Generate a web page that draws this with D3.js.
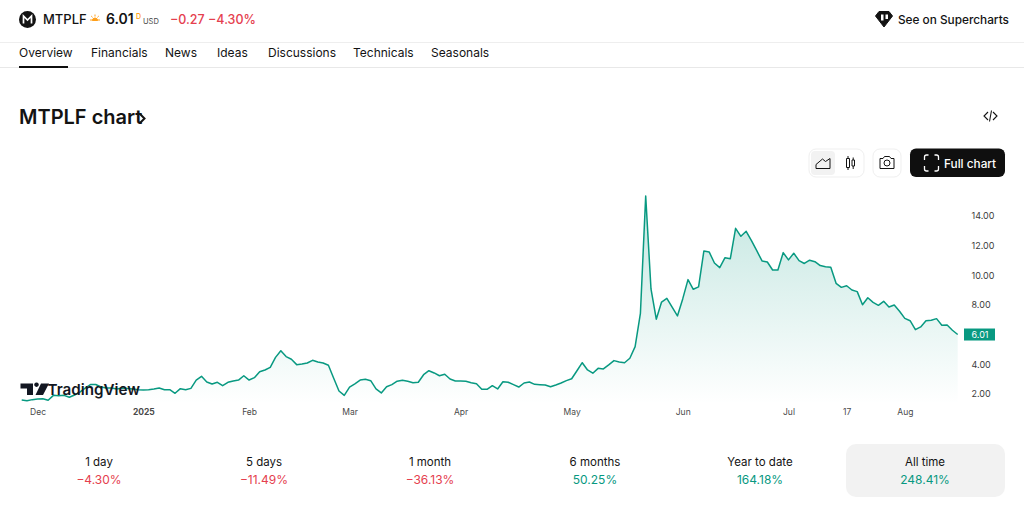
<!DOCTYPE html>
<html>
<head>
<meta charset="utf-8">
<script src="https://cdn.jsdelivr.net/npm/d3@7"></script>
<style>
    html, body { margin: 0; padding: 0; background: #fff; overflow: hidden; }
    text { font-family: Inter, "Noto Sans", sans-serif; }
</style>
</head>
<body>
<div id="chart"></div>
<script>
// daily closes
var prices = [
    1.60, 1.55, 1.62, 1.66, 1.68, 1.58, 1.91, 1.89, 1.91, 1.78, 1.93,
    2.13, 2.40, 2.64, 2.64, 2.47, 2.40, 2.40, 2.34, 2.40, 2.37, 2.34,
    2.29, 2.27, 2.29, 2.34, 2.40, 2.29, 2.29, 2.05, 2.36, 2.29, 2.38, 2.94, 3.19, 2.81,
    2.67, 2.79, 2.56, 2.79, 2.88, 2.94, 3.23, 2.94, 3.10, 3.50, 3.62, 3.80, 4.47, 4.92,
    4.52, 4.34, 3.98, 4.02, 4.09, 4.27, 4.16, 4.09, 3.94, 3.06, 2.20, 1.91,
    2.47, 2.69, 2.94, 2.99, 2.90, 2.34, 2.07, 2.49, 2.63, 2.86, 2.92, 2.86, 2.76, 2.79,
    3.30, 3.57, 3.42, 3.23, 3.33, 3.01, 2.88, 2.88, 2.86, 2.76, 2.69, 2.32, 2.32, 2.56,
    2.34, 2.83, 2.79, 2.63, 2.47, 2.74, 2.81, 2.65, 2.63, 2.61, 2.49, 2.61, 2.74, 2.90,
    3.03, 3.57, 4.11, 3.62, 3.40, 3.73, 3.69, 3.96, 4.25, 4.16, 4.11, 4.41, 5.19, 7.44,
    15.35, 9.08, 7.04, 8.20, 8.45, 7.85, 7.26, 8.41, 9.71, 9.06, 9.22, 11.64, 11.58, 10.83,
    10.52, 11.19, 11.12, 13.17, 12.63, 12.97, 12.34, 11.66, 10.97, 10.90, 10.36, 10.36,
    11.53, 11.04, 11.49, 10.99, 10.80, 11.02, 10.92, 10.66, 10.58, 10.54, 9.46, 9.19,
    9.30, 9.01, 8.90, 8.02, 8.49, 8.18, 7.98, 8.25, 7.87, 8.00, 7.58, 7.10, 6.94, 6.34,
    6.52, 6.94, 6.97, 7.08, 6.63, 6.65, 6.30, 6.01
];
var xTickIndex = [3, 23, 43, 62, 83, 104, 125, 145, 156, 167];
var xTickLabels = ['Dec', '2025', 'Feb', 'Mar', 'Apr', 'May', 'Jun', 'Jul', '17', 'Aug'];
var yTicks = [2, 4, 6, 8, 10, 12, 14];
var lastPrice = 6.01;

var tabs = ['Overview', 'Financials', 'News', 'Ideas', 'Discussions', 'Technicals', 'Seasonals'];
var tabX = [19, 91, 165, 217, 268, 353, 431];
var periods = ['1 day', '5 days', '1 month', '6 months', 'Year to date', 'All time'];
var periodReturns = ['\u22124.30%', '\u221211.49%', '\u221236.13%', '50.25%', '164.18%', '248.41%'];
var periodX = [99, 264, 430, 595, 760, 925];

var green = '#089981', red = '#e5404e', ink = '#131313';

var svg = d3.select('#chart').append('svg')
    .attr('width', 1024)
    .attr('height', 509)
    .style('display', 'block');

var x = d3.scaleLinear().domain([0, prices.length - 1]).range([21.7, 957.7]);
var y = d3.scaleLinear().domain([2, 14]).range([394, 216]);
var chartBottom = 404;

// header
var head = svg.append('g');
head.append('circle').attr('cx', 27.5).attr('cy', 19.5).attr('r', 8.5).attr('fill', ink);
head.append('path')
    .attr('d', 'M23.5 23.5v-7.5l4 4 4-4v7.5')
    .attr('fill', 'none').attr('stroke', '#fff').attr('stroke-width', 1.7);

function label(parent, tx, ty, str, size, weight, fill, anchor) {
    return parent.append('text')
        .attr('x', tx).attr('y', ty)
        .attr('font-size', size).attr('font-weight', weight)
        .attr('fill', fill).attr('text-anchor', anchor || 'start')
        .text(str);
}

label(head, 43, 24, 'MTPLF', 13, 500, ink);
// pre-market sun
var sun = head.append('g').attr('stroke', '#ff9f1a').attr('stroke-width', 1).attr('fill', 'none');
sun.append('path').attr('d', 'M90 20h3M97 20h3M95 14.5v2M91.2 16l1.4 1.4M98.8 16l-1.4 1.4');
sun.append('path').attr('d', 'M92.5 20.5a2.5 2.5 0 0 1 5 0z').attr('fill', '#ff9f1a');
label(head, 106, 24, '6.01', 14, 600, ink);
label(head, 136, 19, 'D', 7, 500, '#ff9800');
label(head, 143, 24, 'USD', 7.5, 400, '#444');
label(head, 170, 24, '\u22120.27', 12.5, 500, red);
label(head, 208, 24, '\u22124.30%', 12.5, 500, red);

// supercharts link
head.append('path').attr('d', 'M879 11.5h10l3.5 4.5-8.5 11-8.5-11z').attr('fill', ink).attr('stroke', ink).attr('stroke-linejoin', 'round');
head.append('path').attr('d', 'M881 14.5h2.5v6h-2.5zM885.5 14.5h2.5v4.5h-2.5z').attr('fill', '#fff');
label(head, 898, 24, 'See on Supercharts', 11.8, 500, ink);

head.append('rect').attr('x', 0).attr('y', 42).attr('width', 1024).attr('height', 1).attr('fill', '#eeeeee');
head.append('rect').attr('x', 0).attr('y', 67).attr('width', 1024).attr('height', 1).attr('fill', '#e8e8e8');
head.append('rect').attr('x', 19).attr('y', 66).attr('width', 49).attr('height', 2).attr('fill', '#0f0f0f');

tabs.forEach(function (t, i) {
    label(head, tabX[i], 56.5, t, 12, 400, ink);
});

// title row
label(svg, 19, 124, 'MTPLF chart', 20, 600, ink);
svg.append('path').attr('d', 'M140 114l4.5 4.5-4.5 4.5')
    .attr('fill', 'none').attr('stroke', ink).attr('stroke-width', 2);
svg.append('path').attr('d', 'M988 112l-4 4 4 4M993 112l4 4-4 4M991.5 110.5l-2 11')
    .attr('fill', 'none').attr('stroke', ink).attr('stroke-width', 1.1);

// toolbar
var bar = svg.append('g');
bar.append('rect').attr('x', 809).attr('y', 149).attr('width', 55).attr('height', 28).attr('rx', 7)
    .attr('fill', '#fff').attr('stroke', '#efefef');
bar.append('rect').attr('x', 811).attr('y', 151).attr('width', 24).attr('height', 24).attr('rx', 4).attr('fill', '#f2f2f2');
bar.append('path').attr('d', 'M816 168.5h14v-10l-4.5 3-3-2.5-6.5 5.5z')
    .attr('fill', 'none').attr('stroke', ink);
bar.append('path').attr('d', 'M846.5 158.5h3v9h-3zM848 156v2.5M848 167.5v2.5M852 160h2.5v6h-2.5zM853.2 157.5v2.5M853.2 166v3')
    .attr('fill', 'none').attr('stroke', ink);
bar.append('rect').attr('x', 873).attr('y', 149).attr('width', 28).attr('height', 28).attr('rx', 7)
    .attr('fill', '#fff').attr('stroke', '#efefef');
bar.append('path').attr('d', 'M880 158.5h3l1.5-2h5l1.5 2h3v10h-14z')
    .attr('fill', 'none').attr('stroke', ink).attr('stroke-linejoin', 'round');
bar.append('circle').attr('cx', 887).attr('cy', 163).attr('r', 3).attr('fill', 'none').attr('stroke', ink);
bar.append('rect').attr('x', 910).attr('y', 148.5).attr('width', 95).attr('height', 28.5).attr('rx', 6).attr('fill', '#0f0f0f');
bar.append('path').attr('d', 'M924.5 160v-3a2 2 0 0 1 2-2h2M934.5 155h2a2 2 0 0 1 2 2v3M938.5 166v3a2 2 0 0 1-2 2h-2M928.5 171h-2a2 2 0 0 1-2-2v-3')
    .attr('fill', 'none').attr('stroke', '#fff').attr('stroke-width', 1.3);
label(bar, 944, 167.5, 'Full chart', 11.8, 500, '#fff');

// price area
var defs = svg.append('defs');
var grad = defs.append('linearGradient').attr('id', 'areaFill')
    .attr('gradientUnits', 'userSpaceOnUse')
    .attr('x1', 0).attr('x2', 0).attr('y1', 196).attr('y2', chartBottom);
grad.append('stop').attr('offset', '0%').attr('stop-color', green).attr('stop-opacity', 0.24);
grad.append('stop').attr('offset', '100%').attr('stop-color', green).attr('stop-opacity', 0);

var area = d3.area()
    .x(function (d, i) { return x(i); })
    .y0(chartBottom)
    .y1(function (d) { return y(d); });

var line = d3.line()
    .x(function (d, i) { return x(i); })
    .y(function (d) { return y(d); });

svg.append('path').datum(prices).attr('d', area).attr('fill', 'url(#areaFill)');
svg.append('path').datum(prices).attr('d', line)
    .attr('fill', 'none').attr('stroke', green).attr('stroke-width', 1.5)
    .attr('stroke-linejoin', 'round');

// axes
var xAxis = d3.axisBottom(x)
    .tickValues(xTickIndex)
    .tickSize(0)
    .tickPadding(0)
    .tickFormat(function (d, i) { return xTickLabels[i]; });

var gx = svg.append('g').attr('transform', 'translate(0,409)').call(xAxis);
gx.select('.domain').remove();
gx.selectAll('text')
    .attr('font-family', 'Inter, sans-serif')
    .attr('font-size', 8.5)
    .attr('fill', '#4a4a4a')
    .attr('font-weight', function (d, i) { return xTickLabels[i] === '2025' ? 700 : 400; });

var yAxis = d3.axisRight(y)
    .tickValues(yTicks.filter(function (d) { return d !== 6; }))
    .tickSize(0)
    .tickPadding(0)
    .tickFormat(function (d) { return d.toFixed(2); });

var gy = svg.append('g').attr('transform', 'translate(971.5,0)').call(yAxis);
gy.select('.domain').remove();
gy.selectAll('text')
    .attr('font-family', 'Inter, sans-serif')
    .attr('font-size', 9)
    .attr('fill', '#3c3c3c');

// last price tag
svg.append('rect').attr('x', 964).attr('y', y(lastPrice) - 6).attr('width', 31).attr('height', 12).attr('fill', green);
label(svg, 971.5, y(lastPrice) + 3.3, lastPrice.toFixed(2), 9, 400, '#fff');

// watermark logo, sits over the line
var logo = svg.append('g');
logo.append('path')
    .attr('d', 'M20.5 383.5h12.5v11.5h-6v-6.5h-6.5zM36.5 387a2.3 2.3 0 1 1 0.01 0zM41 383.5h8l-6 11.5h-7.5z')
    .attr('fill', '#131722');
label(logo, 47.5, 395, 'TradingView', 15.2, 600, '#131722');

// period returns
svg.append('rect').attr('x', 846).attr('y', 444).attr('width', 159).attr('height', 53).attr('rx', 10).attr('fill', '#f2f2f2');
periods.forEach(function (p, i) {
    label(svg, periodX[i], 466, p, 11.5, 400, ink, 'middle');
    label(svg, periodX[i], 483.5, periodReturns[i], 12, 400, periodReturns[i].charAt(0) === '\u2212' ? red : green, 'middle');
});
</script>
</body>
</html>
